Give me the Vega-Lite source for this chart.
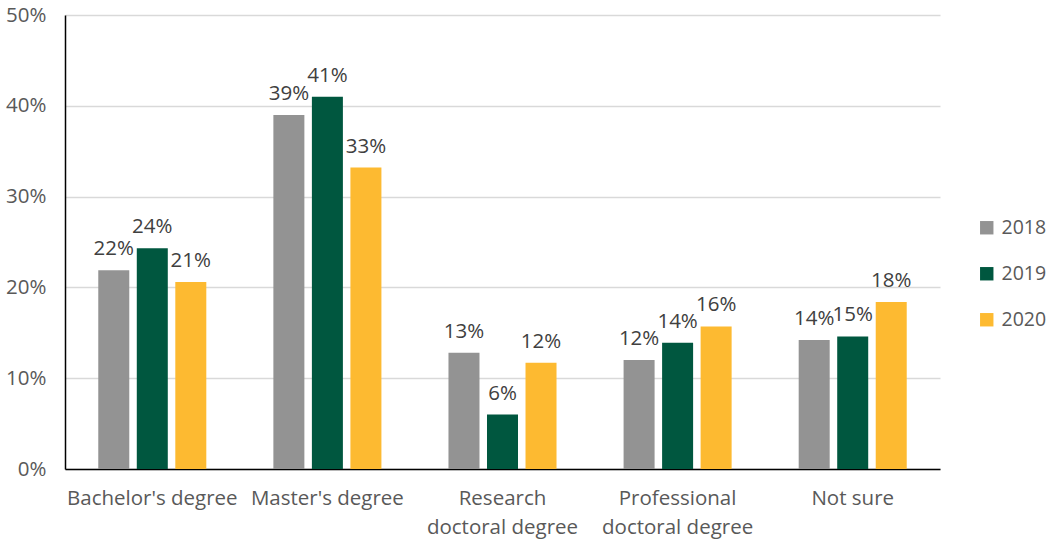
{
  "$schema": "https://vega.github.io/schema/vega-lite/v6.json",
  "autosize": {"type": "none"},
  "width": 875,
  "height": 454,
  "padding": {"left": 65, "top": 15, "right": 108, "bottom": 74},
  "background": "white",
  "config": {
    "font": "Open Sans",
    "view": {"stroke": null}
  },
  "data": {
    "values": [
      {"category": "Bachelor's degree", "year": "2018", "value": 0.219},
      {"category": "Bachelor's degree", "year": "2019", "value": 0.243},
      {"category": "Bachelor's degree", "year": "2020", "value": 0.206},
      {"category": "Master's degree", "year": "2018", "value": 0.390},
      {"category": "Master's degree", "year": "2019", "value": 0.410},
      {"category": "Master's degree", "year": "2020", "value": 0.332},
      {"category": "Research doctoral degree", "year": "2018", "value": 0.128},
      {"category": "Research doctoral degree", "year": "2019", "value": 0.060},
      {"category": "Research doctoral degree", "year": "2020", "value": 0.117},
      {"category": "Professional doctoral degree", "year": "2018", "value": 0.120},
      {"category": "Professional doctoral degree", "year": "2019", "value": 0.139},
      {"category": "Professional doctoral degree", "year": "2020", "value": 0.157},
      {"category": "Not sure", "year": "2018", "value": 0.142},
      {"category": "Not sure", "year": "2019", "value": 0.146},
      {"category": "Not sure", "year": "2020", "value": 0.184}
    ]
  },
  "encoding": {
    "x": {
      "field": "category",
      "type": "nominal",
      "sort": null,
      "scale": {"paddingInner": 0.383, "paddingOuter": 0.19},
      "axis": {
        "title": null,
        "labelAngle": 0,
        "labelFontSize": 20.5,
        "labelColor": "#595959",
        "labelPadding": 19,
        "labelLimit": 300,
        "labelOverlap": false,
        "ticks": false,
        "domainColor": "#000000",
        "domainWidth": 1.5,
        "labelExpr": "datum.value == 'Research doctoral degree' ? ['Research', 'doctoral degree'] : datum.value == 'Professional doctoral degree' ? ['Professional', 'doctoral degree'] : datum.value",
        "labelLineHeight": 29
      }
    },
    "xOffset": {
      "field": "year",
      "type": "nominal",
      "scale": {"paddingInner": 0.195}
    },
    "y": {
      "field": "value",
      "type": "quantitative",
      "scale": {"domain": [0, 0.5], "nice": false},
      "axis": {
        "title": null,
        "format": ".0%",
        "values": [0, 0.1, 0.2, 0.3, 0.4, 0.5],
        "labelOverlap": false,
        "labelFontSize": 20.5,
        "labelColor": "#595959",
        "labelPadding": 19,
        "ticks": false,
        "domainColor": "#000000",
        "domainWidth": 1.5,
        "gridColor": "#d9d9d9",
        "gridWidth": 1.5
      }
    }
  },
  "layer": [
    {
      "mark": {"type": "bar"},
      "encoding": {
        "color": {
          "field": "year",
          "type": "nominal",
          "scale": {"domain": ["2018", "2019", "2020"], "range": ["#939393", "#00573F", "#FDBA31"]},
          "legend": {
            "title": null,
            "orient": "none",
            "legendX": 912,
            "legendY": 203,
            "symbolType": "square",
            "symbolSize": 180,
            "symbolStrokeWidth": 0,
            "labelFontSize": 19.5,
            "labelColor": "#595959",
            "rowPadding": 25,
            "labelOffset": 5
          }
        }
      }
    },
    {
      "mark": {"type": "text", "baseline": "bottom", "dy": -11, "fontSize": 20.5, "color": "#404040"},
      "encoding": {
        "text": {"field": "value", "type": "quantitative", "format": ".0%"}
      }
    }
  ]
}
